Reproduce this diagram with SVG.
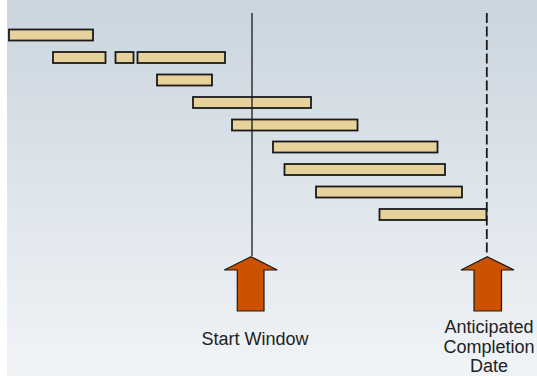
<svg xmlns="http://www.w3.org/2000/svg" width="537" height="376" viewBox="0 0 537 376">
<defs>
<linearGradient id="bg" x1="0" y1="0" x2="0" y2="1">
<stop offset="0" stop-color="#cad5de"/>
<stop offset="1" stop-color="#f1f4f7"/>
</linearGradient>
</defs>
<style>
.bar{fill:#e8d29c;stroke:#1a1a1a;stroke-width:1.8}
.arrow{fill:#cc5200;stroke:#1a1a1a;stroke-width:1.2;stroke-linejoin:miter}
.lbl{font-family:"Liberation Sans",Arial,sans-serif;font-size:18px;fill:#222222;text-anchor:middle}
</style>
<rect x="0" y="0" width="537" height="376" fill="#ffffff"/>
<rect x="7" y="0" width="530" height="376" fill="url(#bg)"/>
<g id="bars">
<rect id="bar1" class="bar" x="9" y="29.5" width="84" height="11"/>
<rect id="bar2" class="bar" x="53" y="52" width="52.5" height="11"/>
<rect id="bar3" class="bar" x="115.5" y="52" width="18" height="11"/>
<rect id="bar4" class="bar" x="137.5" y="52" width="87.5" height="11"/>
<rect id="bar5" class="bar" x="157" y="74.5" width="55" height="11"/>
<rect id="bar6" class="bar" x="193" y="97" width="118" height="11"/>
<rect id="bar7" class="bar" x="232" y="119.5" width="125.5" height="11"/>
<rect id="bar8" class="bar" x="273" y="141.5" width="164.5" height="11"/>
<rect id="bar9" class="bar" x="284.5" y="164" width="160.5" height="11"/>
<rect id="bar10" class="bar" x="316" y="186.5" width="146" height="11"/>
<rect id="bar11" class="bar" x="379.5" y="209" width="107" height="11"/>
</g>
<g id="connectors">
<line x1="252" y1="13" x2="252" y2="256" stroke="#1a1a1a" stroke-width="1.3"/>
<line x1="486.8" y1="13" x2="486.8" y2="256" stroke="#1a1a1a" stroke-width="1.8" stroke-dasharray="10 3.5"/>
</g>
<g id="start-arrow">
<polygon class="arrow" points="251,256.7 277.3,270 264,270 264,311 237.3,311 237.3,270 224.3,270"/>
</g>
<g id="end-arrow">
<polygon class="arrow" points="487.3,256.7 514,270 501.5,270 501.5,311 474,311 474,270 461,270"/>
</g>
<g id="start-label">
<text class="lbl" x="255" y="345">Start Window</text>
</g>
<g id="end-label">
<text class="lbl" x="489" y="333">Anticipated</text>
<text class="lbl" x="489" y="352.5">Completion</text>
<text class="lbl" x="489" y="371.5">Date</text>
</g>
</svg>
